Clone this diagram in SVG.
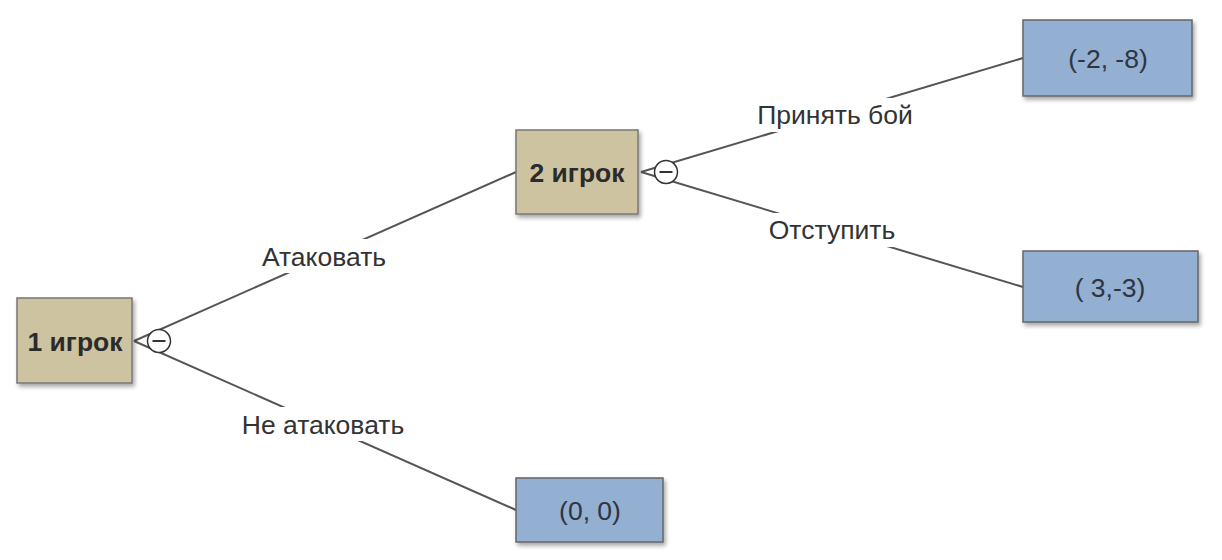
<svg xmlns="http://www.w3.org/2000/svg" width="1222" height="560" viewBox="0 0 1222 560">
<style>
.dec{fill:#cdc3a0;stroke:#777;stroke-width:1.5}
.val{fill:#93afd2;stroke:#666;stroke-width:1.5}
.nt{font-family:"Liberation Sans",Arial,sans-serif;font-weight:bold;font-size:26.5px;fill:#2b2b2b;text-anchor:middle}
.vt{font-family:"Liberation Sans",Arial,sans-serif;font-size:26.5px;fill:#2e3440;text-anchor:middle}
.lt{font-family:"Liberation Sans",Arial,sans-serif;font-size:26.5px;fill:#333;text-anchor:middle}
.edge{stroke:#555;stroke-width:2;fill:none}
.lbg{fill:#fff}
.knob{fill:#fff;stroke:#333;stroke-width:1.5}
</style>
<defs>
<filter id="sh" x="-20%" y="-20%" width="150%" height="150%">
<feDropShadow dx="2" dy="3" stdDeviation="2" flood-color="#000" flood-opacity="0.35"/>
</filter>
</defs>
<rect width="1222" height="560" fill="#fff"/>
<g id="connectors">
<path class="edge" d="M134,341 L516,172"/>
<path class="edge" d="M134,341 L516,510"/>
<path class="edge" d="M641,172 L1023,58"/>
<path class="edge" d="M641,172 L1023,287"/>
<rect class="lbg" x="256" y="239" width="136" height="34"/>
<rect class="lbg" x="236" y="407" width="174" height="34"/>
<rect class="lbg" x="748" y="98" width="174" height="34"/>
<rect class="lbg" x="761" y="213" width="142" height="34"/>
<text class="lt" x="324" y="266">Атаковать</text>
<text class="lt" x="323" y="434">Не атаковать</text>
<text class="lt" x="835" y="124">Принять бой</text>
<text class="lt" x="832" y="239">Отступить</text>
</g>
<g id="n1">
<rect class="dec" x="17" y="298" width="115" height="85" filter="url(#sh)"/>
<text class="nt" x="75" y="351">1 игрок</text>
<circle class="knob" cx="159" cy="341" r="11.5"/>
<path d="M152.5,341 H165.5" stroke="#333" stroke-width="2"/>
</g>
<g id="n2">
<rect class="dec" x="516" y="130" width="122" height="84" filter="url(#sh)"/>
<text class="nt" x="577" y="182">2 игрок</text>
<circle class="knob" cx="666" cy="172" r="11.5"/>
<path d="M659.5,172 H672.5" stroke="#333" stroke-width="2"/>
</g>
<g id="v1">
<rect class="val" x="1023" y="20" width="169" height="76" filter="url(#sh)"/>
<text class="vt" x="1108" y="68">(-2, -8)</text>
</g>
<g id="v2">
<rect class="val" x="1023" y="251" width="175" height="71" filter="url(#sh)"/>
<text class="vt" x="1110" y="297">( 3,-3)</text>
</g>
<g id="v3">
<rect class="val" x="516" y="478" width="147" height="64" filter="url(#sh)"/>
<text class="vt" x="590" y="520">(0, 0)</text>
</g>
</svg>
